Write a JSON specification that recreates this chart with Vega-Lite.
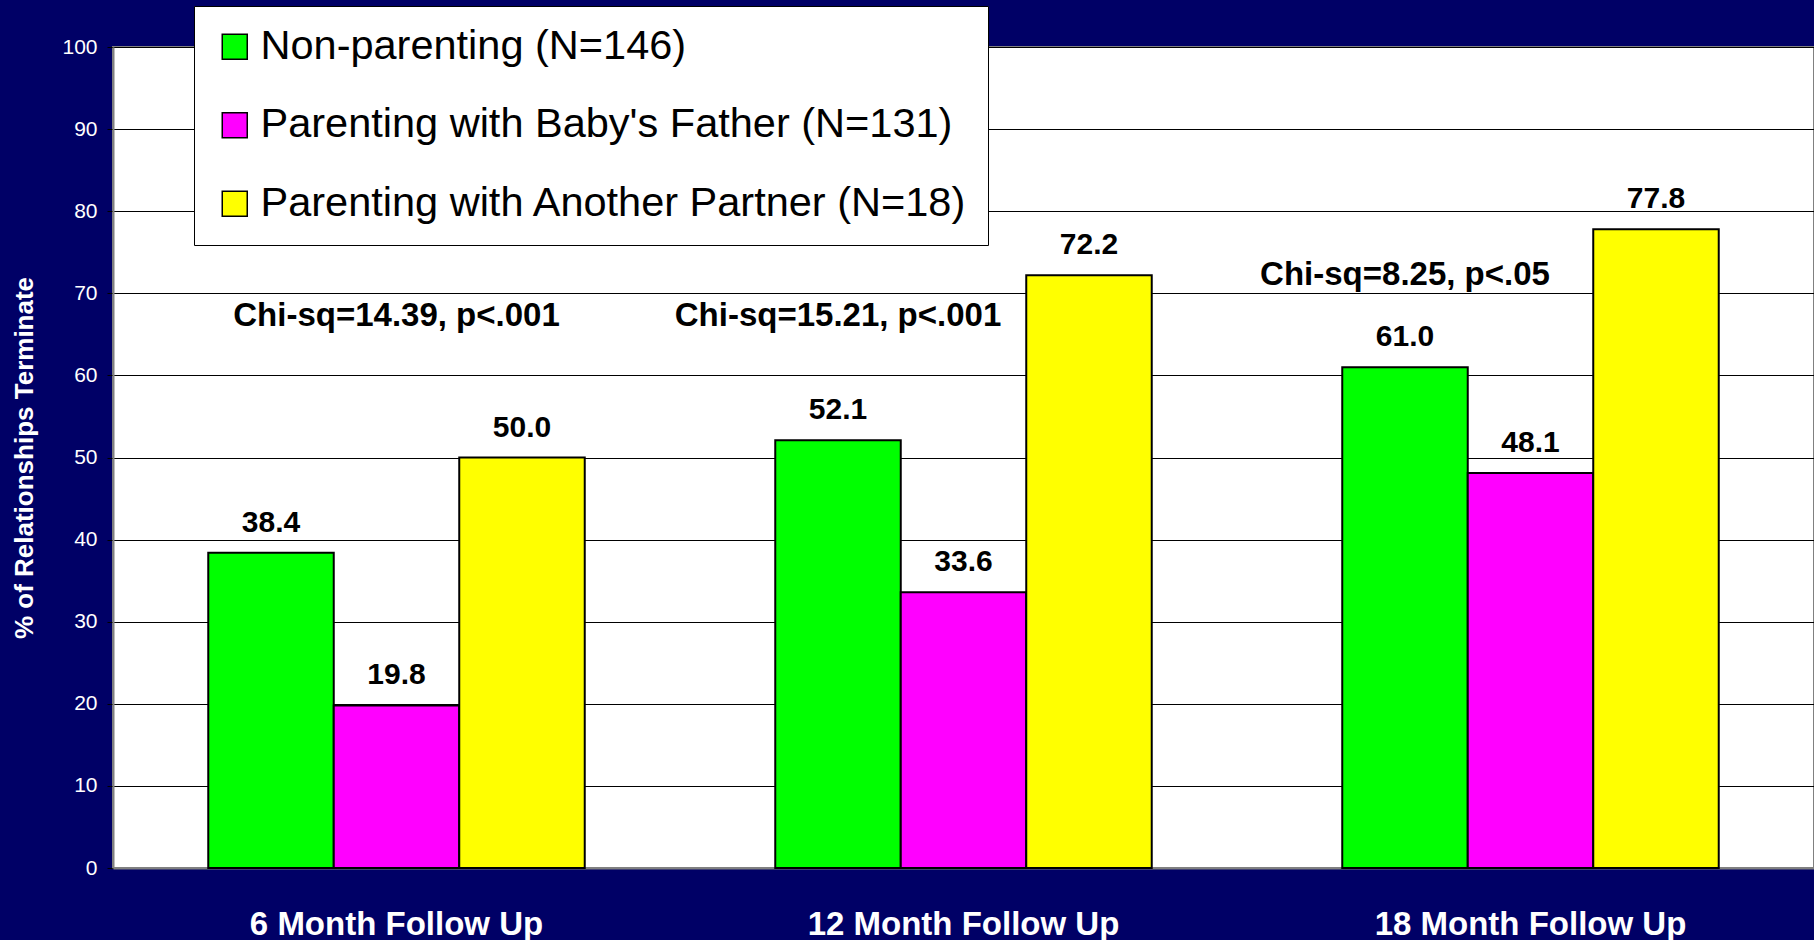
{
  "$schema": "https://vega.github.io/schema/vega-lite/v6.json",
  "width": 1701,
  "height": 821,
  "autosize": {"type": "none"},
  "padding": {"left": 113, "top": 47, "right": 0, "bottom": 72},
  "background": "#000066",
  "config": {
    "font": "Liberation Sans",
    "view": {"fill": "#ffffff", "stroke": "#808080", "strokeWidth": 2}
  },
  "datasets": {
    "bars": [
      {"followup": "6 Month Follow Up", "series": "Non-parenting (N=146)", "pct": 38.4},
      {"followup": "6 Month Follow Up", "series": "Parenting with Baby's Father (N=131)", "pct": 19.8},
      {"followup": "6 Month Follow Up", "series": "Parenting with Another Partner (N=18)", "pct": 50.0},
      {"followup": "12 Month Follow Up", "series": "Non-parenting (N=146)", "pct": 52.1},
      {"followup": "12 Month Follow Up", "series": "Parenting with Baby's Father (N=131)", "pct": 33.6},
      {"followup": "12 Month Follow Up", "series": "Parenting with Another Partner (N=18)", "pct": 72.2},
      {"followup": "18 Month Follow Up", "series": "Non-parenting (N=146)", "pct": 61.0},
      {"followup": "18 Month Follow Up", "series": "Parenting with Baby's Father (N=131)", "pct": 48.1},
      {"followup": "18 Month Follow Up", "series": "Parenting with Another Partner (N=18)", "pct": 77.8}
    ],
    "notes": [
      {"followup": "6 Month Follow Up", "anchor": "Parenting with Baby's Father (N=131)", "y": 67.2, "label": "Chi-sq=14.39, p<.001"},
      {"followup": "12 Month Follow Up", "anchor": "Non-parenting (N=146)", "y": 67.2, "label": "Chi-sq=15.21, p<.001"},
      {"followup": "18 Month Follow Up", "anchor": "Non-parenting (N=146)", "y": 72.2, "label": "Chi-sq=8.25, p<.05"}
    ]
  },
  "layer": [
    {
      "data": {"name": "bars"},
      "mark": {"type": "bar", "stroke": "#000000", "strokeWidth": 2},
      "encoding": {
        "x": {
          "field": "followup", "type": "nominal",
          "sort": ["6 Month Follow Up", "12 Month Follow Up", "18 Month Follow Up"],
          "scale": {"paddingInner": 0.336, "paddingOuter": 0.168},
          "axis": {
            "title": null, "labelAngle": 0, "labelColor": "#ffffff", "labelFontSize": 33,
            "labelFontWeight": "bold", "labelPadding": 40, "labelLimit": 1000, "ticks": false,
            "domainColor": "#808080", "domainWidth": 2, "grid": false
          }
        },
        "xOffset": {
          "field": "series", "type": "nominal",
          "scale": {"domain": ["Non-parenting (N=146)", "Parenting with Baby's Father (N=131)", "Parenting with Another Partner (N=18)"], "paddingInner": 0, "paddingOuter": 0}
        },
        "y": {
          "field": "pct", "type": "quantitative",
          "scale": {"domain": [0, 100], "nice": false},
          "axis": {
            "title": "% of Relationships Terminate", "titleColor": "#ffffff", "titleFontSize": 26,
            "titleFontWeight": "bold", "titlePadding": 24,
            "values": [0, 10, 20, 30, 40, 50, 60, 70, 80, 90, 100],
            "labelColor": "#ffffff", "labelFontSize": 21, "labelPadding": 10,
            "tickSize": 6, "tickColor": "#000000",
            "domainColor": "#808080", "domainWidth": 2,
            "grid": true, "gridColor": "#000000", "gridWidth": 1, "gridOpacity": 1
          }
        },
        "color": {
          "field": "series", "type": "nominal",
          "scale": {
            "domain": ["Non-parenting (N=146)", "Parenting with Baby's Father (N=131)", "Parenting with Another Partner (N=18)"],
            "range": ["#00ff00", "#ff00ff", "#ffff00"]
          },
          "legend": {
            "title": null, "orient": "none", "legendX": 81, "legendY": -41,
            "fillColor": "#ffffff", "strokeColor": "#000000", "padding": 20,
            "symbolType": "square", "symbolSize": 625, "symbolStrokeColor": "#000000",
            "symbolStrokeWidth": 1.5, "symbolOpacity": 1,
            "labelFontSize": 41.5, "labelColor": "#000000", "labelOffset": 5,
            "labelLimit": 1000, "rowPadding": 35.5
          }
        }
      }
    },
    {
      "data": {"name": "bars"},
      "mark": {"type": "text", "fontSize": 30, "fontWeight": "bold", "color": "#000000", "baseline": "alphabetic", "dy": -21},
      "encoding": {
        "x": {"field": "followup", "type": "nominal", "sort": ["6 Month Follow Up", "12 Month Follow Up", "18 Month Follow Up"]},
        "xOffset": {"field": "series", "type": "nominal"},
        "y": {"field": "pct", "type": "quantitative"},
        "text": {"field": "pct", "type": "quantitative", "format": ".1f"}
      }
    },
    {
      "data": {"name": "notes"},
      "mark": {"type": "text", "fontSize": 33, "fontWeight": "bold", "color": "#000000", "baseline": "middle"},
      "encoding": {
        "x": {"field": "followup", "type": "nominal", "sort": ["6 Month Follow Up", "12 Month Follow Up", "18 Month Follow Up"]},
        "xOffset": {"field": "anchor", "type": "nominal"},
        "y": {"field": "y", "type": "quantitative"},
        "text": {"field": "label", "type": "nominal"}
      }
    }
  ]
}
